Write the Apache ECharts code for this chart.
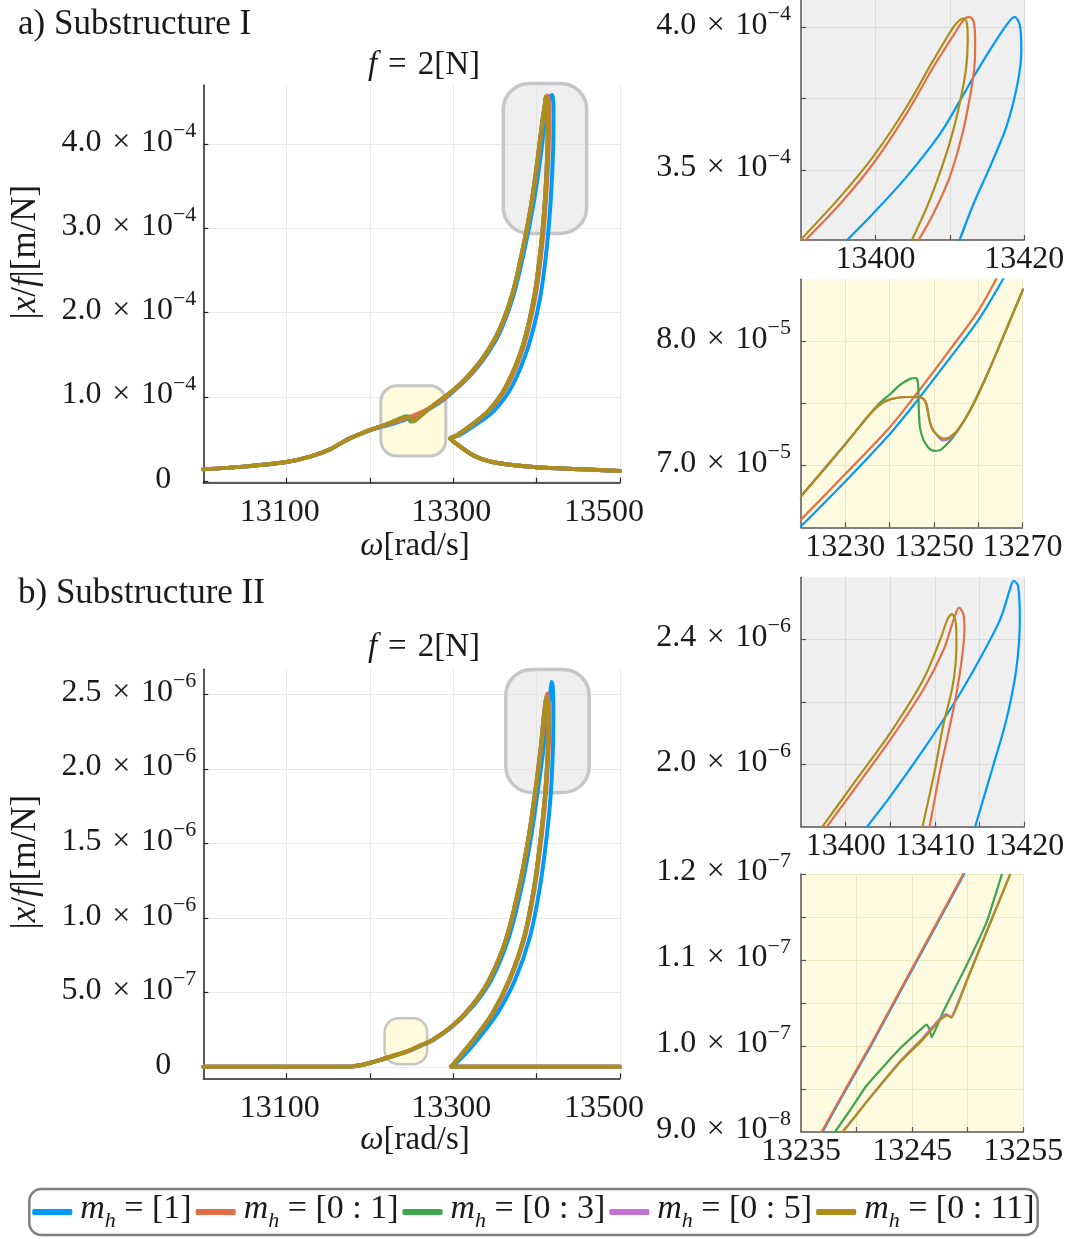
<!DOCTYPE html>
<html>
<head>
<meta charset="utf-8">
<title>Substructure FRF</title>
<script src="https://cdn.jsdelivr.net/npm/echarts@6/dist/echarts.min.js"></script>
<style>
  html, body { margin: 0; padding: 0; background: #fff; }
  #chartDiv { width: 1067px; height: 1239px; }
</style>
</head>
<body>
<div id="chartDiv"></div>
<script>
// series names (legend)
var seriesNames = ['m_h = [1]', 'm_h = [0 : 1]', 'm_h = [0 : 3]', 'm_h = [0 : 5]', 'm_h = [0 : 11]'];
var seriesColors = ['#009AFA', '#E36F47', '#3EA44E', '#C371D2', '#AC8E18'];

// ---- a) Substructure I, main plot, |x/f| in 1e-4 m/N ----
var aBlue = [[13000,0.142],[13048,0.174],[13100,0.229],[13128,0.292],[13152,0.379],[13168,0.47],[13177,0.515],[13184,0.545],[13200,0.605],[13220,0.662],[13230,0.69],[13240,0.724],[13250,0.758],[13260,0.80],[13275,0.88],[13290,0.98],[13300,1.065],[13315,1.2],[13335,1.43],[13355,1.75],[13372,2.2],[13385,2.73],[13396,3.28],[13404,3.8],[13410,4.26],[13414,4.48],[13416.5,4.56],[13418.2,4.581],[13419.6,4.54],[13420.2,4.4],[13419.8,3.95],[13417,3.35],[13412,2.76],[13404,2.17],[13390,1.6],[13370,1.12],[13349,0.84],[13323,0.645],[13306,0.54],[13297,0.51],[13303,0.451],[13327,0.292],[13355,0.213],[13400,0.166],[13455,0.142],[13500,0.123]];
var aOrange = [[13000,0.142],[13048,0.174],[13100,0.229],[13128,0.292],[13152,0.379],[13168,0.47],[13177,0.515],[13184,0.545],[13200,0.607],[13220,0.672],[13230,0.703],[13240,0.737],[13250,0.772],[13260,0.812],[13275,0.89],[13290,0.99],[13300,1.075],[13315,1.21],[13335,1.445],[13355,1.78],[13371,2.22],[13383,2.74],[13393.5,3.26],[13401.5,3.81],[13407.5,4.28],[13411,4.5],[13413,4.575],[13414.5,4.53],[13415,4.42],[13414.5,3.97],[13411.5,3.37],[13406.5,2.78],[13398.5,2.19],[13384.5,1.6],[13364.5,1.123],[13344,0.846],[13320,0.648],[13303.5,0.538],[13296.5,0.51],[13303,0.451],[13327,0.292],[13355,0.213],[13400,0.166],[13455,0.142],[13500,0.123]];
var aGreen = [[13000,0.142],[13048,0.174],[13100,0.229],[13128,0.292],[13152,0.379],[13168,0.47],[13177,0.515],[13184,0.545],[13200,0.609],[13220,0.676],[13235,0.74],[13240,0.76],[13244,0.772],[13246,0.77],[13247,0.735],[13249,0.712],[13251,0.708],[13254,0.72],[13260,0.77],[13275,0.893],[13300,1.083],[13315,1.221],[13335,1.458],[13355,1.794],[13371,2.229],[13383,2.743],[13393,3.257],[13401,3.81],[13407,4.285],[13410,4.48],[13411,4.561],[13412.5,4.52],[13413.4,4.44],[13413,3.97],[13410.2,3.375],[13405,2.78],[13397,2.19],[13383,1.597],[13363,1.123],[13343,0.846],[13319,0.648],[13303,0.538],[13296,0.51],[13303,0.451],[13327,0.292],[13355,0.213],[13400,0.166],[13455,0.142],[13500,0.123]];
var aGold = [[13000,0.142],[13048,0.174],[13100,0.229],[13128,0.292],[13152,0.379],[13168,0.47],[13177,0.515],[13184,0.545],[13200,0.609],[13220,0.676],[13235,0.735],[13240,0.752],[13246,0.755],[13249,0.735],[13251,0.72],[13254,0.725],[13260,0.77],[13275,0.893],[13300,1.083],[13315,1.221],[13335,1.458],[13355,1.794],[13371,2.229],[13383,2.743],[13393,3.257],[13401,3.81],[13407,4.285],[13410,4.48],[13411,4.561],[13412.5,4.52],[13413.4,4.44],[13413,3.97],[13410.2,3.375],[13405,2.78],[13397,2.19],[13383,1.597],[13363,1.123],[13343,0.846],[13319,0.648],[13303,0.538],[13296,0.51],[13303,0.451],[13327,0.292],[13355,0.213],[13400,0.166],[13455,0.142],[13500,0.123]];

// ---- b) Substructure II, main plot, |x/f| in 1e-6 m/N ----
var bBlue = [[13000,0.004],[13176,0.004],[13182,0.008],[13195,0.022],[13215,0.054],[13235,0.088],[13247,0.11],[13260,0.142],[13275,0.18],[13300,0.278],[13325,0.42],[13346,0.59],[13366,0.86],[13382,1.21],[13394,1.567],[13402,1.88],[13408.5,2.15],[13413,2.37],[13416.5,2.52],[13418.2,2.583],[13419.6,2.53],[13420,2.4],[13419.6,2.15],[13417,1.84],[13412,1.545],[13404,1.21],[13392,0.875],[13374,0.585],[13353,0.362],[13332,0.205],[13315,0.094],[13303,0.027],[13298,0.004],[13311,0.004],[13500,0.004]];
var bOrange = [[13000,0.004],[13176,0.004],[13182,0.008],[13195,0.022],[13215,0.054],[13235,0.089],[13247,0.112],[13260,0.145],[13275,0.183],[13300,0.283],[13323,0.417],[13343,0.585],[13363,0.853],[13379.5,1.21],[13391.5,1.567],[13399.5,1.879],[13405.5,2.147],[13409.5,2.371],[13412.7,2.505],[13414.5,2.43],[13415,2.3],[13414.4,2.125],[13411.2,1.835],[13406,1.545],[13398,1.21],[13386,0.875],[13368,0.585],[13348,0.362],[13327,0.205],[13311,0.094],[13301,0.027],[13297.3,0.004],[13311,0.004],[13500,0.004]];
var bGold = [[13000,0.004],[13176,0.004],[13182,0.008],[13195,0.022],[13215,0.054],[13235,0.089],[13247,0.112],[13260,0.145],[13275,0.183],[13300,0.283],[13323,0.417],[13343,0.585],[13363,0.853],[13379,1.21],[13391,1.567],[13399,1.879],[13405,2.147],[13409,2.371],[13411.8,2.478],[13413.6,2.42],[13414,2.3],[13413.4,2.125],[13410.2,1.835],[13405,1.545],[13397,1.21],[13385,0.875],[13367,0.585],[13347,0.362],[13327,0.205],[13311,0.094],[13301,0.027],[13297.3,0.004],[13311,0.004],[13500,0.004]];

// ---- inset a1 (peak, grey), 1e-4 ----
var a1Blue = [[13396.2,3.255],[13399.7,3.348],[13404.2,3.477],[13408.7,3.628],[13411.4,3.745],[13413.2,3.827],[13415.4,3.921],[13417.6,4.008],[13418.7,4.037],[13419.4,4.008],[13419.6,3.921],[13419.1,3.804],[13417.6,3.652],[13415.4,3.512],[13413.2,3.383],[13411.3,3.255]];
var a1Orange = [[13390.6,3.255],[13395.3,3.383],[13399.7,3.523],[13404.2,3.699],[13407.8,3.862],[13410.5,3.973],[13411.8,4.025],[13412.6,4.037],[13413.2,4.02],[13413.4,3.95],[13413.3,3.862],[13412.7,3.757],[13411.7,3.629],[13410.0,3.477],[13407.8,3.348],[13405.8,3.255]];
var a1Gold = [[13390.0,3.257],[13395.3,3.407],[13399.7,3.547],[13404.2,3.722],[13407.8,3.886],[13410.5,4.002],[13411.3,4.025],[13411.8,4.032],[13412.3,4.014],[13412.4,3.956],[13412.2,3.862],[13411.6,3.769],[13410.7,3.664],[13409.4,3.547],[13407.3,3.395],[13404.9,3.255]];

// ---- inset a2 (kink, yellow), 1e-5 ----
var a2Blue = [[13220,6.508],[13230.1,6.874],[13240.1,7.255],[13246.4,7.53],[13253.8,7.874],[13260.1,8.175],[13265.9,8.519]];
var a2Orange = [[13220,6.562],[13230.1,6.933],[13240.1,7.309],[13246.4,7.591],[13253.8,7.941],[13260.1,8.25],[13264.3,8.519]];
var a2Green = [[13220,6.75],[13230.1,7.175],[13235,7.39],[13237.6,7.497],[13240.1,7.573],[13242.5,7.653],[13244.8,7.699],[13245.9,7.704],[13246.4,7.664],[13246.6,7.444],[13246.9,7.296],[13248.1,7.175],[13250,7.116],[13251.5,7.124],[13253.4,7.188],[13255,7.26],[13257,7.37],[13259,7.5],[13262,7.73],[13265,7.981],[13268,8.237],[13270.1,8.417]];
var a2Purple = [[13220,6.75],[13230.1,7.175],[13235,7.39],[13237.6,7.484],[13240.1,7.532],[13244,7.551],[13247.1,7.545],[13248.3,7.50],[13248.8,7.40],[13249.6,7.30],[13251,7.23],[13252.1,7.2],[13253.4,7.213],[13255,7.265],[13257,7.37],[13259,7.5],[13262,7.73],[13265,7.981],[13268,8.237],[13270.1,8.417]];
var a2Gold = [[13220,6.75],[13230.1,7.175],[13235,7.39],[13237.6,7.484],[13240.1,7.532],[13244,7.551],[13247,7.548],[13248.1,7.511],[13248.7,7.417],[13249.4,7.309],[13250.8,7.242],[13252.3,7.215],[13253.4,7.225],[13255,7.27],[13257,7.37],[13259,7.5],[13262,7.73],[13265,7.981],[13268,8.237],[13270.1,8.417]];

// ---- inset b1 (peak, grey), 1e-6 ----
var b1Blue = [[13402.4,1.8],[13405,1.897],[13408.7,2.047],[13412.4,2.208],[13415,2.337],[13417.3,2.465],[13418.4,2.562],[13418.8,2.589],[13419.3,2.573],[13419.5,2.465],[13419.1,2.305],[13418,2.144],[13416.5,1.994],[13414.5,1.8]];
var b1Orange = [[13397.9,1.8],[13401.2,1.929],[13405,2.079],[13408.7,2.24],[13411,2.37],[13412.1,2.465],[13412.7,2.503],[13413.2,2.48],[13413.3,2.433],[13413.0,2.337],[13412.35,2.219],[13411.5,2.101],[13410.6,1.983],[13409.4,1.8]];
var b1Gold = [[13397.4,1.8],[13401.2,1.951],[13405,2.101],[13408.7,2.272],[13410.6,2.401],[13411.4,2.465],[13411.9,2.482],[13412.3,2.46],[13412.4,2.4],[13412.3,2.32],[13411.9,2.24],[13410.9,2.122],[13410,1.983],[13408.6,1.8]];

// ---- inset b2 (kink, yellow), 1e-7 ----
var b2Blue = [[13236.93,0.9],[13239.08,0.95],[13241.28,1.0],[13243.38,1.05],[13245.48,1.1],[13247.58,1.15],[13249.68,1.2]];
var b2Orange = [[13236.85,0.9],[13239.0,0.95],[13241.2,1.0],[13243.3,1.05],[13245.4,1.1],[13247.5,1.15],[13249.6,1.2]];
var b2Green = [[13238.05,0.9],[13239.4,0.925],[13240.9,0.954],[13243.9,0.997],[13246.0,1.022],[13246.3,1.025],[13246.55,1.02],[13246.76,1.01],[13247.2,1.022],[13247.8,1.04],[13249.9,1.094],[13251.7,1.144],[13253.06,1.199]];
var b2Purple = [[13238.74,0.9],[13240.9,0.935],[13243.9,0.982],[13246.0,1.01],[13247.5,1.032],[13248.05,1.037],[13248.5,1.034],[13249.9,1.076],[13252.0,1.143],[13253.8,1.199]];
var b2Gold = [[13238.74,0.9],[13240.0,0.92],[13240.9,0.935],[13243.9,0.981],[13246.0,1.008],[13247.5,1.03],[13248.1,1.036],[13248.56,1.033],[13249.9,1.075],[13252.0,1.142],[13253.8,1.199]];

// highlight boxes [x1, y1, x2, y2] in data units
var aGrayBox = [13360, 2.94, 13460, 4.72];
var aYellowBox = [13213, 0.30, 13291, 1.134];
var bGrayBox = [13363, 1.842, 13463, 2.667];
var bYellowBox = [13217.5, 0.02, 13268.6, 0.328];

// ticks / labels
var mainXTicks = [13100, 13200, 13300, 13400, 13500];
var mainXLabels = [13100, 13300, 13500];
var aYTicks = [0, 1, 2, 3, 4];
var bYTicks = [0, 0.5, 1, 1.5, 2, 2.5];
var a1XTicks = [13400, 13410, 13420], a1XLabels = [13400, 13420];
var a1YTicks = [3.5, 3.75, 4.0], a1YLabels = [3.5, 4.0];
var a2XTicks = [13230, 13240, 13250, 13260, 13270], a2XLabels = [13230, 13250, 13270];
var a2YTicks = [7, 7.5, 8], a2YLabels = [7, 8];
var b1XTicks = [13400, 13405, 13410, 13415, 13420], b1XLabels = [13400, 13410, 13420];
var b1YTicks = [2.0, 2.2, 2.4], b1YLabels = [2.0, 2.4];
var b2XTicks = [13240, 13245, 13250, 13255], b2XLabels = [13235, 13245, 13255];
var b2YTicks = [0.95, 1.0, 1.05, 1.1, 1.15, 1.2], b2YLabels = [0.9, 1.0, 1.1, 1.2];

var FONT = "'Liberation Serif', 'DejaVu Serif', serif";
var TXT = '#1a1a1a';
var SP = '\u2004'; // three-per-em space, a little wider than a normal space

function sciFormatter(unit) {
    return function (v) {
        var real = v * unit;
        if (Math.abs(v) < 1e-9) return '{z|0}';
        var e = Math.floor(Math.log10(Math.abs(real)) + 1e-9);
        var m = (real / Math.pow(10, e)).toFixed(1);
        return '{m|' + m + SP + '×' + SP + '10}{s|−' + (-e) + '}';
    };
}

var sciRich = {
    m: { fontFamily: FONT, fontSize: 32, lineHeight: 38, verticalAlign: 'bottom', color: TXT },
    z: { fontFamily: FONT, fontSize: 32, lineHeight: 38, verticalAlign: 'bottom', color: TXT, padding: [0, 25, 0, 0] },
    s: { fontFamily: FONT, fontSize: 22, lineHeight: 20, verticalAlign: 'top', color: TXT }
};

// main x labels sit a little left of their ticks in the original
var mainXRich = {
    p7: { fontFamily: FONT, fontSize: 32, color: TXT, padding: [0, 14, 0, 0] },
    p2: { fontFamily: FONT, fontSize: 32, color: TXT, padding: [0, 4, 0, 0] },
    p16: { fontFamily: FONT, fontSize: 32, color: TXT, padding: [0, 32, 0, 0] }
};
function mainXFormatter(v) {
    var r = Math.round(v);
    var key = r === 13100 ? 'p7' : (r === 13300 ? 'p2' : 'p16');
    return '{' + key + '|' + r + '}';
}

function makeX(idx, min, max, ticks, labels, inset) {
    return {
        type: 'value', gridIndex: idx, min: min, max: max,
        axisLine: { onZero: false, lineStyle: { color: inset ? '#555' : '#222', width: 1.5 } },
        axisTick: { inside: true, length: 5, customValues: ticks, lineStyle: { color: inset ? '#555' : '#222', width: 1.2 } },
        axisLabel: {
            customValues: labels, margin: inset ? 4 : 14, fontFamily: FONT, fontSize: 32, color: TXT,
            formatter: inset ? function (v) { return String(Math.round(v)); } : mainXFormatter,
            rich: inset ? {} : mainXRich
        },
        splitLine: { show: true, lineStyle: { color: inset === 'y' ? '#ebe5c3' : (inset ? '#dcdcdc' : '#e8e8e8'), width: 1 } }
    };
}

function makeY(idx, min, max, ticks, labels, unit, inset) {
    return {
        type: 'value', gridIndex: idx, min: min, max: max,
        axisLine: { onZero: false, lineStyle: { color: inset ? '#555' : '#222', width: 1.5 } },
        axisTick: { inside: true, length: 5, customValues: ticks, lineStyle: { color: inset ? '#555' : '#222', width: 1.2 } },
        axisLabel: { customValues: labels, margin: inset ? 10 : 7, padding: [0, 0, 10, 0], fontFamily: FONT, fontSize: 32, color: TXT, formatter: sciFormatter(unit), rich: sciRich },
        splitLine: { show: true, lineStyle: { color: inset === 'y' ? '#ebe5c3' : (inset ? '#dcdcdc' : '#e8e8e8'), width: 1 } }
    };
}

function lineSeries(k, data, idx, width, smooth) {
    return {
        type: 'line', name: seriesNames[k], data: data,
        xAxisIndex: idx, yAxisIndex: idx,
        showSymbol: false, symbol: 'none', smooth: smooth == null ? 0.3 : smooth, clip: true, silent: true,
        lineStyle: { color: seriesColors[k], width: width, cap: 'round', join: 'round' },
        itemStyle: { color: seriesColors[k] },
        z: 3
    };
}

function boxSeries(box, idx, fill, radius, lw) {
    return {
        type: 'custom', xAxisIndex: idx, yAxisIndex: idx, clip: false, silent: true, z: 1,
        data: [box],
        renderItem: function (params, api) {
            var p1 = api.coord([api.value(0), api.value(3)]);
            var p2 = api.coord([api.value(2), api.value(1)]);
            return {
                type: 'rect',
                shape: { x: p1[0], y: p1[1], width: p2[0] - p1[0], height: p2[1] - p1[1], r: radius },
                style: { fill: fill, stroke: '#c6c6c6', lineWidth: lw }
            };
        }
    };
}

var grids = [
    { left: 203.3, top: 85, width: 416.7, height: 397.7 },
    { left: 203.3, top: 669.3, width: 416.7, height: 409 },
    { left: 801, top: 0, width: 223.3, height: 240, show: true, backgroundColor: '#efefef', borderWidth: 0 },
    { left: 801, top: 279.3, width: 221.5, height: 248, show: true, backgroundColor: '#fefbe0', borderWidth: 0 },
    { left: 801, top: 577.3, width: 223.3, height: 249.4, show: true, backgroundColor: '#efefef', borderWidth: 0 },
    { left: 801, top: 874, width: 222.3, height: 258, show: true, backgroundColor: '#fefbe0', borderWidth: 0 }
];
grids.forEach(function (g) { g.outerBoundsMode = 'none'; g.containLabel = false; });

var xAxes = [
    makeX(0, 13000, 13500, mainXTicks, mainXLabels, false),
    makeX(1, 13000, 13500, mainXTicks, mainXLabels, false),
    makeX(2, 13390, 13420, a1XTicks, a1XLabels, 'g'),
    makeX(3, 13220, 13270, a2XTicks, a2XLabels, 'y'),
    makeX(4, 13395, 13420, b1XTicks, b1XLabels, 'g'),
    makeX(5, 13235, 13255, b2XTicks, b2XLabels, 'y')
];
var yAxes = [
    makeY(0, -0.0166, 4.701, aYTicks, aYTicks, 1e-4, false),
    makeY(1, -0.0737, 2.6676, bYTicks, bYTicks, 1e-6, false),
    makeY(2, 3.255, 4.096, a1YTicks, a1YLabels, 1e-4, 'g'),
    makeY(3, 6.5, 8.5, a2YTicks, a2YLabels, 1e-5, 'y'),
    makeY(4, 1.8, 2.6, b1YTicks, b1YLabels, 1e-6, 'g'),
    makeY(5, 0.9, 1.2, b2YTicks, b2YLabels, 1e-7, 'y')
];

var series = [
    boxSeries(aGrayBox, 0, 'rgba(225,225,225,0.55)', 26, 3.5),
    boxSeries(aYellowBox, 0, 'rgba(255,251,215,0.9)', 16, 3),
    boxSeries(bGrayBox, 1, 'rgba(225,225,225,0.55)', 26, 3.5),
    boxSeries(bYellowBox, 1, 'rgba(255,251,215,0.9)', 14, 2.5),

    lineSeries(0, aBlue, 0, 4), lineSeries(1, aOrange, 0, 4), lineSeries(2, aGreen, 0, 4), lineSeries(3, aGold, 0, 4), lineSeries(4, aGold, 0, 4),
    lineSeries(0, bBlue, 1, 4), lineSeries(1, bOrange, 1, 4), lineSeries(2, bGold, 1, 4), lineSeries(3, bGold, 1, 4), lineSeries(4, bGold, 1, 4),

    lineSeries(0, a1Blue, 2, 2.2), lineSeries(1, a1Orange, 2, 2.2), lineSeries(4, a1Gold, 2, 2.2),
    lineSeries(0, a2Blue, 3, 2.2), lineSeries(1, a2Orange, 3, 2.2), lineSeries(2, a2Green, 3, 2.2), lineSeries(3, a2Purple, 3, 2.2), lineSeries(4, a2Gold, 3, 2.2),
    lineSeries(0, b1Blue, 4, 2.2), lineSeries(1, b1Orange, 4, 2.2), lineSeries(4, b1Gold, 4, 2.2),
    lineSeries(0, b2Blue, 5, 2.2, 0.1), lineSeries(1, b2Orange, 5, 2.2, 0.1), lineSeries(2, b2Green, 5, 2.2, 0.1), lineSeries(3, b2Purple, 5, 2.2, 0.1), lineSeries(4, b2Gold, 5, 2.2, 0.1)
];

function label(text, x, y, size, align, rot) {
    return {
        type: 'text', x: x, y: y, rotation: rot || 0, silent: true,
        style: {
            text: text,
            rich: { i: { fontFamily: FONT, fontSize: size, fontStyle: 'italic', color: TXT } },
            fontFamily: FONT, fontSize: size, fill: TXT, align: align || 'center', verticalAlign: 'middle'
        }
    };
}

var option = {
    animation: false,
    backgroundColor: '#ffffff',
    grid: grids,
    xAxis: xAxes,
    yAxis: yAxes,
    series: series,
    legend: {
        data: seriesNames,
        left: 'center', top: 1189,
        icon: 'roundRect', itemWidth: 40, itemHeight: 6, itemGap: 4,
        borderColor: '#808080', borderWidth: 2.5, borderRadius: 12,
        padding: [3, 3, 3, 3],
        selectedMode: false,
        formatter: function (name) {
            return '{i|m}{h|h}{t|' + name.slice(3) + '}';
        },
        textStyle: {
            fontFamily: FONT, fontSize: 34, color: TXT, padding: [0, 0, 0, 3],
            rich: {
                i: { fontFamily: FONT, fontSize: 34, fontStyle: 'italic', lineHeight: 40, verticalAlign: 'top', color: TXT },
                h: { fontFamily: FONT, fontSize: 22, fontStyle: 'italic', lineHeight: 20, verticalAlign: 'bottom', color: TXT },
                t: { fontFamily: FONT, fontSize: 34, lineHeight: 40, verticalAlign: 'top', color: TXT }
            }
        }
    },
    graphic: [
        label('a) Substructure I', 18, 25, 35, 'left'),
        label('{i|f}' + SP + '=' + SP + '2[N]', 424, 65, 33),
        label('{i|ω}[rad/s]', 415, 546, 33),
        label('|{i|x}/{i|f}|[m/N]', 26, 252, 35, 'center', Math.PI / 2),
        label('b) Substructure II', 18, 594, 35, 'left'),
        label('{i|f}' + SP + '=' + SP + '2[N]', 424, 647, 33),
        label('{i|ω}[rad/s]', 415, 1140, 33),
        label('|{i|x}/{i|f}|[m/N]', 26, 862, 35, 'center', Math.PI / 2)
    ]
};

var myChart = echarts.init(document.getElementById('chartDiv'));
myChart.setOption(option);
</script>
</body>
</html>
